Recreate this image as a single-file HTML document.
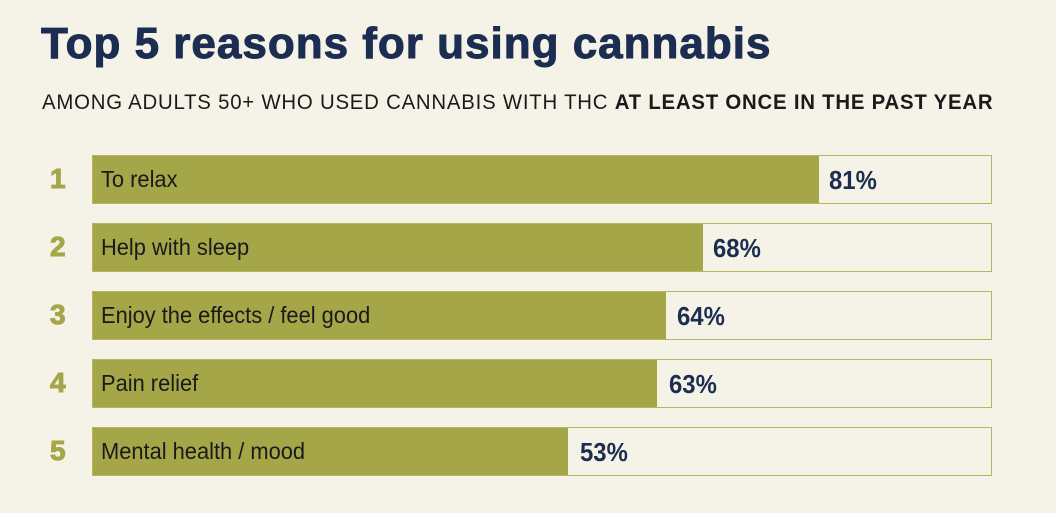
<!DOCTYPE html>
<html><head><style>
body{margin:0;width:1056px;height:513px;background:#f5f3e7;overflow:hidden;font-family:"Liberation Sans",sans-serif;position:relative}
.t{position:absolute;left:41px;top:19px;font-size:44px;font-weight:bold;color:#1c2d52;letter-spacing:1px;-webkit-text-stroke:1px #1c2d52}
.s{position:absolute;left:42px;top:91px;font-size:21px;color:#1a1a1a;white-space:nowrap;transform:scaleX(0.97);transform-origin:left top;letter-spacing:0.8px}
.row{position:absolute;left:92px;width:898px;height:47px;border:1px solid #b5b560;background:#f5f3e7}
.f{position:absolute;left:0;top:0;height:47px;background:#a4a648}
.l{position:absolute;left:8px;top:10px;font-size:23px;color:#1a1a1a;white-space:nowrap;transform:scaleX(0.95);transform-origin:left top}
.p{position:absolute;top:9px;font-size:26px;font-weight:bold;color:#1c2d52;transform:scaleX(0.92);transform-origin:left top}
.n{position:absolute;left:50px;font-size:28px;font-weight:bold;color:#a4a648;-webkit-text-stroke:1px #a4a648}
</style></head><body>
<div class="t">Top 5 reasons for using cannabis</div>
<div class="s">AMONG ADULTS 50+ WHO USED CANNABIS WITH THC <b>AT LEAST ONCE IN THE PAST YEAR</b></div>

<div class="n" style="top:163px">1</div>
<div class="row" style="top:155px"><div class="f" style="width:726px"></div><div class="l">To relax</div><div class="p" style="left:736px">81%</div></div>
<div class="n" style="top:231px">2</div>
<div class="row" style="top:223px"><div class="f" style="width:610px"></div><div class="l">Help with sleep</div><div class="p" style="left:620px">68%</div></div>
<div class="n" style="top:299px">3</div>
<div class="row" style="top:291px"><div class="f" style="width:573px"></div><div class="l">Enjoy the effects / feel good</div><div class="p" style="left:584px">64%</div></div>
<div class="n" style="top:367px">4</div>
<div class="row" style="top:359px"><div class="f" style="width:564px"></div><div class="l">Pain relief</div><div class="p" style="left:576px">63%</div></div>
<div class="n" style="top:435px">5</div>
<div class="row" style="top:427px"><div class="f" style="width:475px"></div><div class="l">Mental health / mood</div><div class="p" style="left:487px">53%</div></div>
</body></html>
